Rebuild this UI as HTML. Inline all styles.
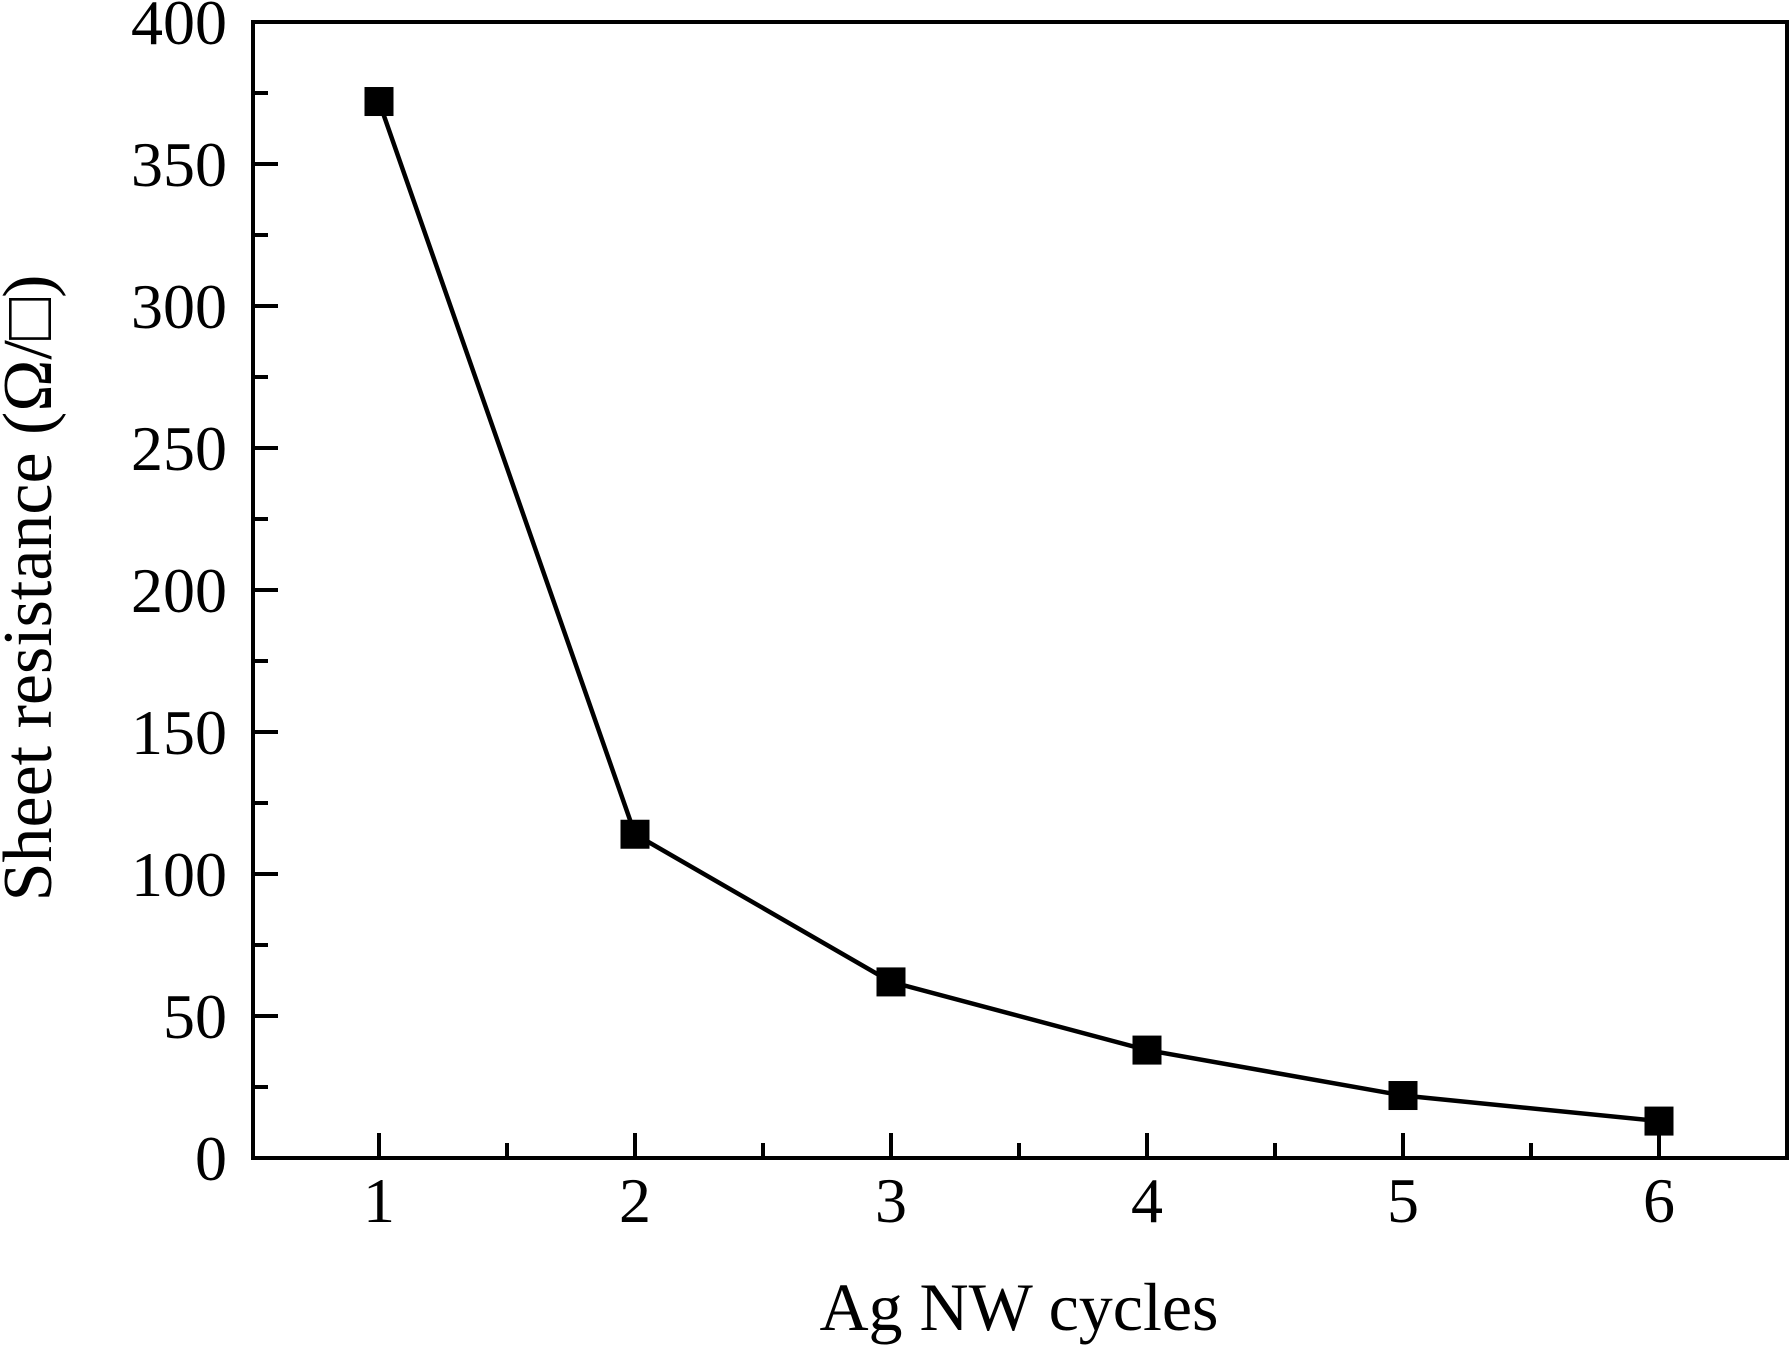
<!DOCTYPE html>
<html><head><meta charset="utf-8"><style>
html,body{margin:0;padding:0;background:#fff;}
svg{display:block;font-family:"Liberation Serif","DejaVu Serif",serif;}
</style></head><body>
<svg id="chart" width="1790" height="1348" viewBox="0 0 1790 1348">
<g id="axes"></g><g id="series"></g>
</svg>
<script>
const cycles=[1,2,3,4,5,6];
const resistance=[372,114,62,38,22,13];
const yTicks=[0,50,100,150,200,250,300,350,400];
const xTicks=[1,2,3,4,5,6];
const L=253,R=1787,T=22,B=1158;
const xs=v=>379+(v-1)*256;
const ys=v=>B-(v/400)*(B-T);
const NS="http://www.w3.org/2000/svg";
const axes=document.getElementById('axes'),ser=document.getElementById('series');
function mk(tag,attrs,parent){const e=document.createElementNS(NS,tag);for(const k in attrs)e.setAttribute(k,attrs[k]);parent.appendChild(e);return e;}
const frame=mk('rect',{x:L,y:T,width:R-L,height:B-T,fill:'none',stroke:'#000','stroke-width':4},axes);


yTicks.forEach((v,i)=>{
  const y=ys(v);
  const t=mk('line',{x1:L,x2:L+25,y1:y,y2:y,stroke:'#000','stroke-width':4},axes);
  
  
  if(i<yTicks.length-1){const ym=ys(v+25);
    const m=mk('line',{x1:L,x2:L+15,y1:ym,y2:ym,stroke:'#000','stroke-width':4},axes);
    
    }
  const tx=mk('text',{x:227,y:y+22,'text-anchor':'end','font-size':64},axes);
  tx.textContent=v;
  
  
});
xTicks.forEach((v,i)=>{
  const x=xs(v);
  const t=mk('line',{x1:x,x2:x,y1:B,y2:B-25,stroke:'#000','stroke-width':4},axes);
  
  
  const tx=mk('text',{x:x,y:1222,'text-anchor':'middle','font-size':64},axes);
  tx.textContent=v;
  
  
});
[0.5,1.5,2.5,3.5,4.5,5.5,6.5].forEach(v=>{const x=xs(v);if(x>L&&x<R){
  const m=mk('line',{x1:x,x2:x,y1:B,y2:B-15,stroke:'#000','stroke-width':4},axes);
  
  }});
const xl=mk('text',{x:1019,y:1330,'text-anchor':'middle','font-size':68},axes);
xl.textContent='Ag NW cycles';


const yl=mk('text',{x:0,y:0,'text-anchor':'middle','font-size':70,transform:'translate(51,588) rotate(-90)'},axes);
yl.textContent='Sheet resistance (Ω/□)';


const pts=cycles.map((c,i)=>xs(c)+','+ys(resistance[i])).join(' ');
const pl=mk('polyline',{points:pts,fill:'none',stroke:'#000','stroke-width':4.5},ser);


cycles.forEach((c,i)=>{
  const r=mk('rect',{x:xs(c)-14.5,y:ys(resistance[i])-14.5,width:29,height:29,fill:'#000'},ser);
  
  
});
</script>
</body></html>
